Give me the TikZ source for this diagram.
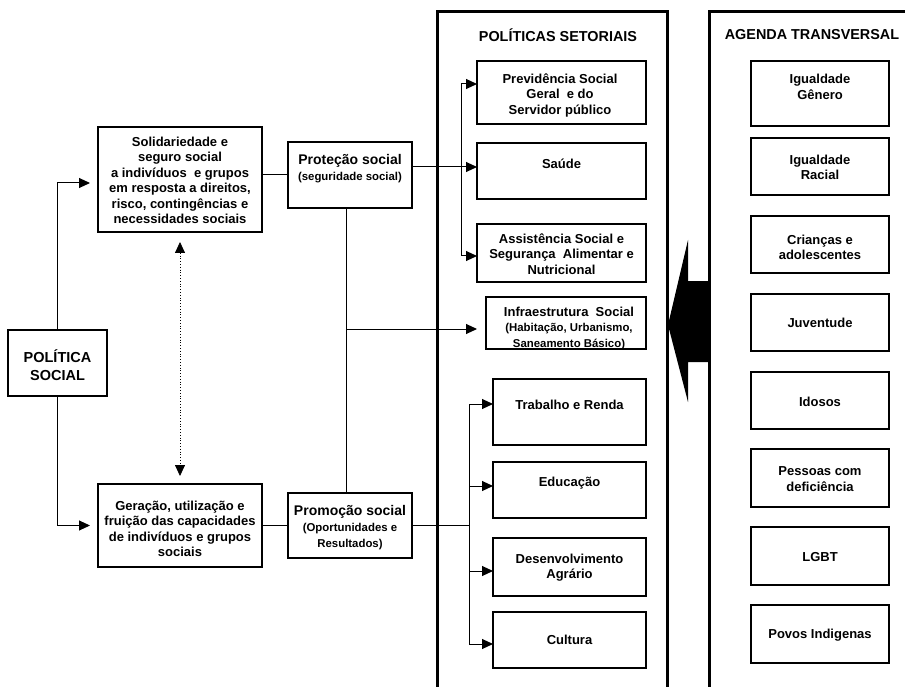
\documentclass[tikz,border=0pt]{standalone}
\usepackage{fontspec}
\setmainfont{Liberation Sans}
\usetikzlibrary{arrows.meta}
\newcommand\subfnt{\fontsize{11.4}{13.7}\selectfont}
\tikzset{
  box/.style={draw, line width=1.1pt, inner sep=0pt, outer sep=0pt},
  txt/.style={align=center, inner sep=0pt, font=\bfseries\fontsize{13}{15.5}\selectfont},
  head/.style={align=center, inner sep=0pt, font=\bfseries\fontsize{14}{16}\selectfont},
  ttl/.style={inner sep=0pt, font=\bfseries\fontsize{14.4}{17}\selectfont},
  ln/.style={line width=1pt},
  arr/.style={line width=1pt, -{Triangle[length=11pt,width=10pt]}},
  frame/.style={line width=3pt}
}
\begin{document}
\begin{tikzpicture}[x=1pt,y=-1pt]
\useasboundingbox (0,0) rectangle (905,687);
% frames
\draw[frame] (437,690) -- (437,12) -- (667,12) -- (667,690);
\draw[frame] (709,690) -- (709,12) -- (910,12);
\node[ttl] (t1) at (558,35) {POLÍTICAS SETORIAIS};
\node[ttl] (t2) at (812,35) {AGENDA TRANSVERSAL};
% left boxes
\node[box, minimum width=99pt, minimum height=66pt] (ps) at (57.5,363) {};
\node[align=center, inner sep=0pt, font=\bfseries\fontsize{14.5}{18}\selectfont] (pst) at (57.5,365) {POLÍTICA\\SOCIAL};
\node[box, minimum width=164pt, minimum height=105pt] (sol) at (180,179.5) {};
\node[txt] (solt) at (180,180.5) {Solidariedade e\\seguro social\\a indivíduos\ \ e grupos\\em resposta a direitos,\\risco, contingências e\\necessidades sociais};
\node[box, minimum width=164pt, minimum height=83pt] (ger) at (180,525.5) {};
\node[txt] (gert) at (180,528.7) {Geração, utilização e\\fruição das capacidades\\de indivíduos e grupos\\sociais};
\node[box, minimum width=124pt, minimum height=66pt] (prot) at (350,175) {};
\node[head] (prott) at (350,169) {Proteção social\\\subfnt(seguridade social)};
\node[box, minimum width=124pt, minimum height=65pt] (prom) at (350,525.5) {};
\node[head] (promt) at (350,528) {Promoção social\\\subfnt(Oportunidades e\\\subfnt Resultados)};
% sector boxes
\node[box, minimum width=169pt, minimum height=63pt] (prev) at (561.5,92.5) {};
\node[txt] (prevt) at (560,95) {Previdência Social\\Geral\ \ e do\\Servidor público};
\node[box, minimum width=169pt, minimum height=56pt] (sau) at (561.5,171) {};
\node[txt] (saut) at (561.5,164) {Saúde};
\node[box, minimum width=169pt, minimum height=58pt] (ass) at (561.5,253) {};
\node[txt] (asst) at (561.5,254) {Assistência Social e\\Segurança\ \ Alimentar e\\Nutricional};
\node[box, minimum width=160pt, minimum height=52pt] (inf) at (566,323) {};
\node[txt] (inft) at (569,328) {Infraestrutura\ \ Social\\\subfnt(Habitação, Urbanismo,\\\subfnt Saneamento Básico)};
\node[box, minimum width=153pt, minimum height=66pt] (trab) at (569.5,412) {};
\node[txt] (trabt) at (569.5,405) {Trabalho e Renda};
\node[box, minimum width=153pt, minimum height=56pt] (edu) at (569.5,490) {};
\node[txt] (edut) at (569.5,483) {Educação};
\node[box, minimum width=153pt, minimum height=58pt] (des) at (569.5,567) {};
\node[txt] (dest) at (569.5,567.5) {Desenvolvimento\\Agrário};
\node[box, minimum width=153pt, minimum height=56pt] (cul) at (569.5,640) {};
\node[txt] (cult) at (569.5,640) {Cultura};
% agenda boxes
\node[box, minimum width=138pt, minimum height=65pt] (ig) at (820,93.5) {};
\node[txt] (igt) at (820,87) {Igualdade\\Gênero};
\node[box, minimum width=138pt, minimum height=57pt] (ir) at (820,166.5) {};
\node[txt] (irt) at (820,167.5) {Igualdade\\Racial};
\node[box, minimum width=138pt, minimum height=57pt] (cr) at (820,244.5) {};
\node[txt] (crt) at (820,247.5) {Crianças e\\adolescentes};
\node[box, minimum width=138pt, minimum height=57pt] (ju) at (820,322.5) {};
\node[txt] (jut) at (820,323) {Juventude};
\node[box, minimum width=138pt, minimum height=57pt] (id) at (820,400.5) {};
\node[txt] (idt) at (820,402) {Idosos};
\node[box, minimum width=138pt, minimum height=58pt] (pe) at (820,478) {};
\node[txt] (pet) at (820,479) {Pessoas com\\deficiência};
\node[box, minimum width=138pt, minimum height=58pt] (lg) at (820,556) {};
\node[txt] (lgt) at (820,556.7) {LGBT};
\node[box, minimum width=138pt, minimum height=58pt] (pv) at (820,634) {};
\node[txt] (pvt) at (820,635) {Povos Indigenas};
% big arrow
\fill (668,325) -- (688,240) -- (688,281) -- (710,281) -- (710,362) -- (688,362) -- (688,402) -- cycle;
% connectors
\draw[arr, shorten >=8pt] (ps.north) |- ([yshift=-3.5pt]sol.west);
\draw[arr, shorten >=8pt] (ps.south) |- (ger.west);
\draw[ln] (sol.east |- prot.west) -- (prot.west);
\draw[ln] (ger.east) -- (prom.west);
\draw[arr] ([yshift=8pt]prot.east) -- ([yshift=4pt]sau.west);
\coordinate (b1) at (461,84);
\coordinate (b2) at (461,256);
\draw[ln] (b1) -- (b2);
\draw[arr] (b1) -- (prev.west |- b1);
\draw[arr] (b2) -- (ass.west |- b2);
\coordinate (v) at (346,0);
\draw[ln] (prot.south -| v) -- (prom.north -| v);
\coordinate (iv) at (346,329);
\draw[arr, shorten >=9pt] (iv) -- (inf.west |- iv);
\coordinate (c1) at (469,404);
\coordinate (c2) at (469,486);
\coordinate (c3) at (469,571);
\coordinate (c4) at (469,644);
\draw[ln] (prom.east) -- (prom.east -| c1);
\draw[ln] (c1) -- (c4);
\draw[arr] (c1) -- (trab.west |- c1);
\draw[arr] (c2) -- (edu.west |- c2);
\draw[arr] (c3) -- (des.west |- c3);
\draw[arr] (c4) -- (cul.west |- c4);
\draw[line width=0.8pt, dotted, {Triangle[length=11pt,width=10pt]}-{Triangle[length=11pt,width=10pt]}, shorten <=10pt, shorten >=8pt] (sol.south) -- (ger.north);
\end{tikzpicture}
\end{document}
